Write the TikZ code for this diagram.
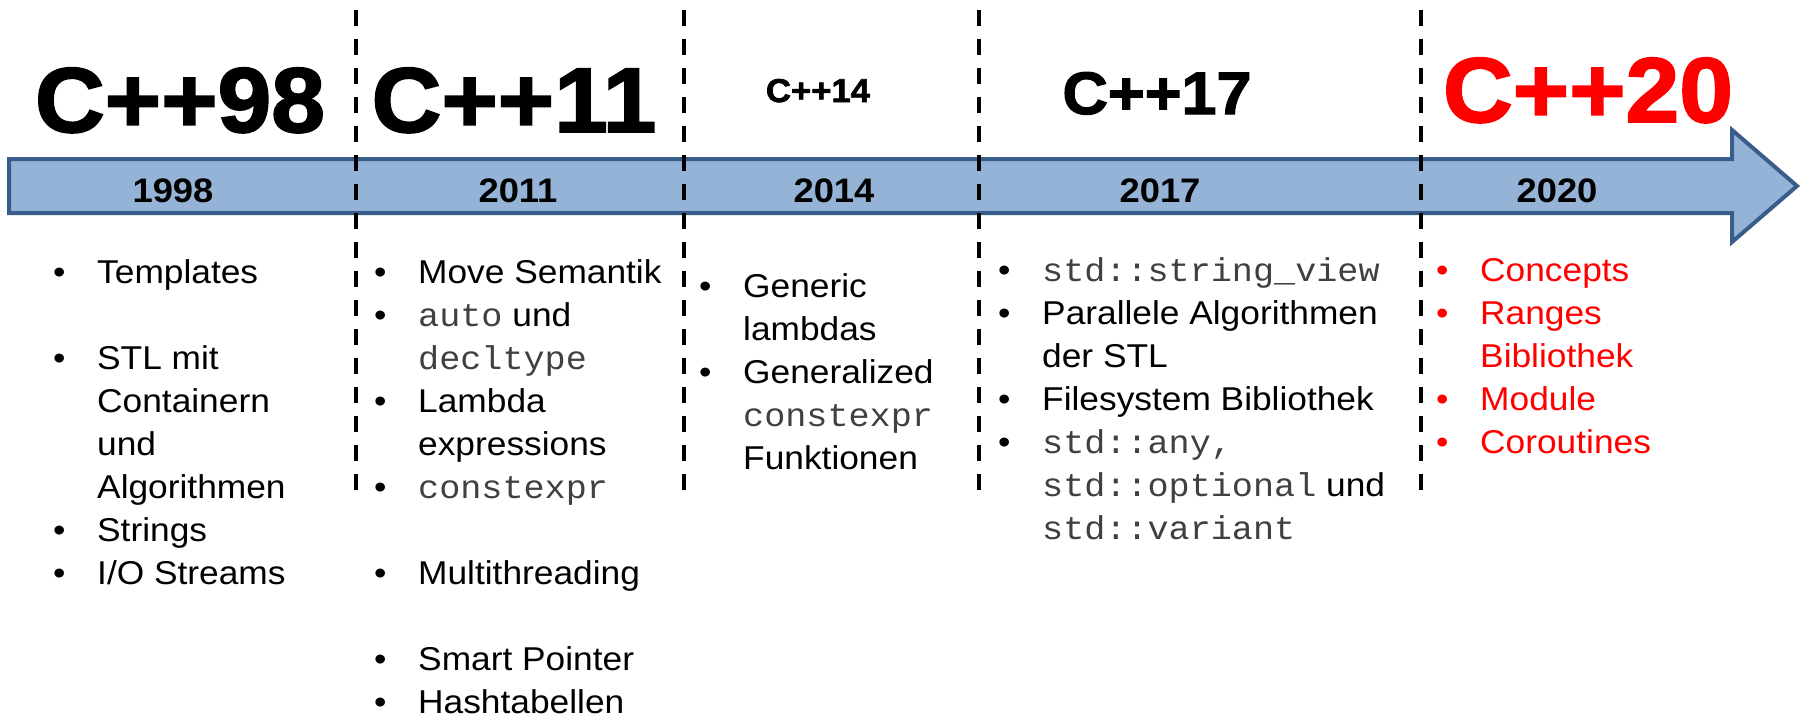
\documentclass[tikz,border=0pt]{standalone}
\usepackage{fontspec}
\setmainfont{Liberation Sans}[FakeStretch=1.07]
\setmonofont{Liberation Mono}[FakeStretch=1.065]
\newfontfamily\headfont{Liberation Sans}[FakeBold=2,FakeStretch=1.05]
\definecolor{barfill}{HTML}{95B3D7}
\definecolor{barline}{HTML}{385D8A}
\newcommand{\code}[1]{{\color{black!75}\texttt{#1}}}

\begin{document}
\begin{tikzpicture}[x=1pt, y=-1pt,
    head/.style = {anchor=base, inner sep=0pt, font=\headfont\bfseries\fontsize{92}{92}\selectfont},
    year/.style = {anchor=base, inner sep=0pt, font=\bfseries\fontsize{34}{34}\selectfont},
    items/.style = {anchor=base west, inner sep=0pt, font=\fontsize{33}{43}\selectfont},
    sep/.style = {line width=4pt, dash pattern=on 16pt off 13pt}]
    \useasboundingbox (0,0) rectangle (1804,717);
    % timeline arrow
    \draw[line width=4pt, fill=barfill, draw=barline] (9,159) -- (1732,159) -- (1732,130) -- (1797,186)
        -- (1732,242) -- (1732,213) -- (9,213) -- cycle;
    \path[draw, sep]
        (356,10) -- (356,503)
        (684,10) -- (684,503)
        (979,10) -- (979,503)
        (1421,10) -- (1421,503);
    % standards
    \node[head] (c98) at (180,132) {C++98};
    \node[head] (c11) at (514,132) {C++11};
    \node[head, font=\headfont\bfseries\fontsize{33}{33}\selectfont] (c14) at (818,102) {C++14};
    \node[head, font=\headfont\bfseries\fontsize{60}{60}\selectfont] (c17) at (1157,114) {C++17};
    \node[head, text=red] (c20) at (1588,122) {C++20};
    % years
    \node[year] (y98) at (173,202) {1998};
    \node[year] (y11) at (518,202) {2011};
    \node[year] (y14) at (834,202) {2014};
    \node[year] (y17) at (1160,202) {2017};
    \node[year] (y20) at (1557,202) {2020};
    % features
    \node[items] (f98) at (53,283) {\begin{tabular}[t]{@{}p{44pt}@{}l@{}}
        \textbullet & Templates\\
        & \\
        \textbullet & STL mit\\
        & Containern\\
        & und\\
        & Algorithmen\\
        \textbullet & Strings\\
        \textbullet & I/O Streams
        \end{tabular}};
    \node[items] (f11) at (374,283) {\begin{tabular}[t]{@{}p{44pt}@{}l@{}}
        \textbullet & Move Semantik\\
        \textbullet & \code{auto} und\\
        & \code{decltype}\\
        \textbullet & Lambda\\
        & expressions\\
        \textbullet & \code{constexpr}\\
        & \\
        \textbullet & Multithreading\\
        & \\
        \textbullet & Smart Pointer\\
        \textbullet & Hashtabellen
        \end{tabular}};
    \node[items] (f14) at (699,297) {\begin{tabular}[t]{@{}p{44pt}@{}l@{}}
        \textbullet & Generic\\
        & lambdas\\
        \textbullet & Generalized\\
        & \code{constexpr}\\
        & Funktionen
        \end{tabular}};
    \node[items] (f17) at (998,281) {\begin{tabular}[t]{@{}p{44pt}@{}l@{}}
        \textbullet & \code{std::string\_view}\\
        \textbullet & Parallele Algorithmen\\
        & der STL\\
        \textbullet & Filesystem Bibliothek\\
        \textbullet & \code{std::any,}\\
        & \code{std::optional} und\\
        & \code{std::variant}
        \end{tabular}};
    \node[items, text=red] (f20) at (1436,281) {\begin{tabular}[t]{@{}p{44pt}@{}l@{}}
        \textbullet & Concepts\\
        \textbullet & Ranges\\
        & Bibliothek\\
        \textbullet & Module\\
        \textbullet & Coroutines
        \end{tabular}};
\end{tikzpicture}
\end{document}
